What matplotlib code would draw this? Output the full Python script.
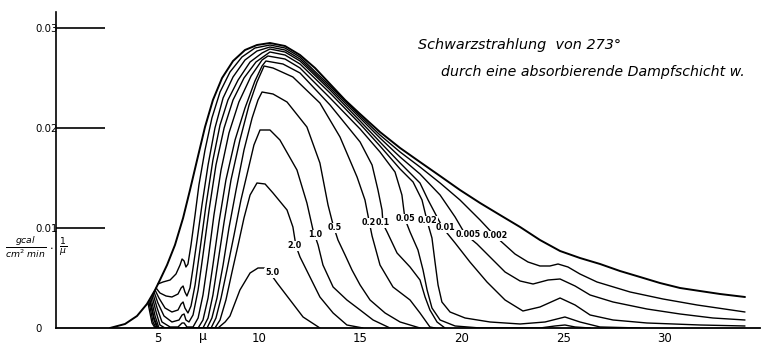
import matplotlib.pyplot as plt

# wavelength [µ] and intensity [gcal / cm² min µ]

# black body 273°, no vapour
lam_0 = [2.66, 3.40, 3.99, 4.48, 4.88, 5.12, 5.47, 5.86, 6.26, 6.60, 6.95, 7.34, 7.73, 8.18, 8.72,
         9.31, 9.90, 10.54, 11.28, 12.02, 12.76, 13.50, 14.24, 14.98, 15.96, 16.95, 17.93, 18.92,
         19.90, 20.89, 21.87, 22.86, 23.84, 24.83, 25.81, 26.80, 27.78, 28.77, 29.75, 30.74,
         31.72, 32.71, 33.94]
flux_0 = [0, .0004, .0012, .0024, .0038, .0048, .0063, .0083, .0110, .0138, .0168, .0201, .0228,
          .0250, .0267, .0278, .0283, .0285, .0282, .0273, .0260, .0244, .0228, .0214, .0196,
          .0180, .0166, .0152, .0138, .0125, .0113, .0101, .0088, .0077, .0070, .0064, .0057,
          .0051, .0045, .0040, .0037, .0034, .0031]

# w = 0.002
lam_0002 = [5.02, 5.27, 5.62, 5.91, 6.11, 6.21, 6.31, 6.40, 6.50, 6.65, 6.85, 7.04, 7.34, 7.68,
            8.08, 8.57, 9.16, 9.80, 10.54, 11.28, 12.02, 13.50, 14.98, 15.96, 16.95, 17.93,
            18.92, 19.90, 20.89, 21.63, 22.12, 22.61, 23.25, 23.84, 24.33, 24.73, 25.22, 25.81,
            26.65, 28.28, 29.90, 31.58, 33.94]
flux_0002 = [.0044, .0046, .0048, .0054, .0063, .0069, .0067, .0061, .0064, .0083, .0113, .0143,
             .0178, .0210, .0236, .0256, .0271, .0280, .0283, .0280, .0271, .0242, .0212, .0193,
             .0176, .0161, .0145, .0128, .0108, .0092, .0083, .0074, .0066, .0062, .0062, .0064,
             .0061, .0054, .0046, .0036, .0029, .0023, .0016]

# w = 0.005
lam_0005 = [4.93, 5.12, 5.42, 5.71, 6.01, 6.16, 6.26, 6.35, 6.45, 6.60, 6.75, 6.95, 7.19, 7.49,
            7.83, 8.23, 8.72, 9.31, 9.90, 10.54, 11.28, 12.02, 13.50, 14.98, 15.96, 16.95,
            17.93, 18.92, 19.66, 20.15, 20.74, 21.38, 22.12, 22.86, 23.50, 24.24, 24.83, 25.57,
            26.31, 27.44, 29.11, 30.74, 32.36, 33.94]
flux_0005 = [.0040, .0035, .0032, .0031, .0034, .0040, .0042, .0036, .0032, .0040, .0060, .0088,
             .0123, .0163, .0200, .0230, .0251, .0268, .0277, .0281, .0278, .0269, .0240, .0210,
             .0190, .0171, .0154, .0133, .0111, .0094, .0084, .0071, .0056, .0047, .0044, .0048,
             .0049, .0042, .0033, .0026, .0019, .0014, .0010, .0008]

# w = 0.01
lam_001 = [4.88, 5.07, 5.37, 5.71, 6.01, 6.16, 6.26, 6.35, 6.50, 6.65, 6.85, 7.09, 7.39, 7.73,
           8.08, 8.47, 8.97, 9.56, 10.15, 10.54, 11.28, 12.02, 13.50, 14.98, 15.96, 16.95,
           17.93, 18.33, 18.77, 19.06, 19.66, 20.39, 21.23, 22.12, 23.00, 23.84, 24.83, 25.57,
           26.31, 27.44, 29.11, 31.72, 33.94]
flux_001 = [.0038, .0030, .0020, .0016, .0018, .0024, .0026, .0020, .0015, .0022, .0043, .0078,
            .0123, .0168, .0203, .0228, .0248, .0266, .0275, .0279, .0276, .0267, .0238, .0207,
            .0186, .0165, .0145, .0128, .0111, .0100, .0085, .0066, .0046, .0028, .0017, .0021,
            .0030, .0023, .0013, .0008, .0005, .0003, .0002]

# w = 0.02
lam_002 = [4.83, 5.02, 5.32, 5.71, 6.06, 6.21, 6.31, 6.40, 6.55, 6.75, 7.00, 7.24, 7.54, 7.88,
           8.28, 8.72, 9.26, 9.85, 10.54, 11.28, 12.02, 13.50, 14.98, 15.96, 16.95, 17.59,
           18.03, 18.28, 18.52, 18.67, 18.82, 19.01, 19.41, 20.15, 21.38, 22.86, 24.09, 25.07,
           25.81, 26.80, 28.77]
flux_002 = [.0036, .0025, .0012, .0006, .0008, .0013, .0014, .0008, .0006, .0013, .0038, .0073,
            .0118, .0163, .0200, .0228, .0250, .0266, .0276, .0273, .0264, .0235, .0204, .0182,
            .0159, .0146, .0128, .0107, .0090, .0066, .0043, .0026, .0016, .0010, .0006, .0004,
            .0006, .0011, .0006, .0001, 0]

# w = 0.05
lam_005 = [4.78, 4.98, 5.22, 5.62, 6.01, 6.21, 6.31, 6.45, 6.75, 7.00, 7.24, 7.49, 7.78, 8.13,
           8.52, 9.01, 9.61, 10.15, 10.44, 11.28, 12.02, 13.50, 14.98, 15.96, 16.70, 17.04,
           17.19, 17.44, 17.83, 18.08, 18.28, 18.52, 18.92, 19.66, 20.89, 23.84, 24.58, 25.07,
           25.57, 26.31]
flux_005 = [.0034, .0020, .0006, .0001, .0001, .0005, .0005, .0001, .0001, .0010, .0033, .0068,
            .0113, .0158, .0195, .0226, .0252, .0268, .0272, .0269, .0260, .0230, .0199, .0176,
            .0156, .0133, .0109, .0096, .0078, .0058, .0038, .0020, .0008, .0002, 0, 0, .0002,
            .0003, .0001, 0]

# w = 0.1
lam_01 = [4.73, 4.93, 5.12, 5.37, 7.00, 7.24, 7.49, 7.73, 8.03, 8.37, 8.82, 9.31, 9.80, 10.15,
          10.34, 11.18, 12.02, 13.50, 14.98, 15.57, 15.86, 16.06, 16.11, 16.31, 16.80, 17.44,
          17.93, 18.18, 18.42, 18.77, 19.16]
flux_01 = [.0032, .0016, .0003, 0, 0, .0008, .0030, .0063, .0106, .0148, .0188, .0220, .0247,
           .0262, .0267, .0264, .0255, .0223, .0186, .0163, .0138, .0118, .0104, .0096, .0075,
           .0061, .0048, .0031, .0018, .0006, 0]

# w = 0.2
lam_02 = [4.68, 4.88, 5.07, 7.24, 7.49, 7.73, 7.98, 8.28, 8.62, 9.06, 9.51, 9.90, 10.25, 10.69,
          11.67, 13.00, 13.99, 14.83, 15.22, 15.47, 15.57, 15.96, 16.60, 17.44, 17.93, 18.42,
          18.67]
flux_02 = [.0030, .0012, 0, 0, .0010, .0033, .0066, .0106, .0148, .0188, .0223, .0246, .0262,
           .0260, .0251, .0225, .0191, .0151, .0128, .0102, .0092, .0063, .0041, .0028, .0015,
           .0001, 0]

# w = 0.5
lam_05 = [4.63, 4.83, 5.02, 7.44, 7.68, 7.93, 8.23, 8.52, 8.87, 9.26, 9.66, 9.95, 10.15, 10.69,
          11.38, 12.36, 13.00, 13.40, 13.65, 13.89, 14.24, 14.58, 14.98, 15.47, 16.21, 16.95,
          17.93]
flux_05 = [.0028, .0010, 0, 0, .0010, .0030, .0063, .0100, .0138, .0178, .0210, .0228, .0236,
           .0234, .0226, .0201, .0165, .0123, .0103, .0088, .0073, .0058, .0043, .0028, .0015,
           .0006, 0]

# w = 1.0
lam_1 = [4.63, 4.83, 4.98, 7.64, 7.88, 8.13, 8.42, 8.77, 9.11, 9.46, 9.75, 10.05, 10.54, 11.03,
         11.87, 12.36, 12.66, 12.91, 13.15, 13.65, 14.33, 14.98, 15.62, 16.45]
flux_1 = [.0027, .0008, 0, 0, .0010, .0030, .0058, .0093, .0128, .0158, .0183, .0198, .0198,
          .0188, .0158, .0125, .0098, .0083, .0063, .0041, .0028, .0018, .0008, 0]

# w = 2.0
lam_2 = [4.58, 4.78, 4.93, 7.83, 8.08, 8.37, 8.67, 8.97, 9.26, 9.56, 9.90, 10.30, 10.69, 11.38,
         11.67, 11.82, 12.02, 12.51, 13.00, 13.65, 14.33, 15.12]
flux_2 = [.0026, .0006, 0, 0, .0008, .0028, .0056, .0083, .0110, .0133, .0145, .0144, .0135,
          .0118, .0101, .0082, .0071, .0051, .0031, .0015, .0003, 0]

# w = 5.0
lam_5 = [4.53, 4.73, 4.88, 7.98, 8.33, 8.57, 9.06, 9.56, 9.95, 10.25, 10.54, 10.89, 11.53,
         12.17, 13.00]
flux_5 = [.0025, .0005, 0, 0, .0006, .0012, .0038, .0055, .0060, .0060, .0055, .0045, .0028,
          .0011, 0]

# layer labels written into the curves
label_text = ['5.0', '2.0', '1.0', '0.5', '0.2', '0.1', '0.05', '0.02', '0.01', '0.005', '0.002']
label_lam = [10.64, 11.77, 12.76, 13.74, 15.42, 16.11, 17.19, 18.30, 19.20, 20.30, 21.63]
label_flux = [.0055, .0082, .0093, .0100, .0105, .0105, .0109, .0107, .0100, .0093, .0092]

xticks = [5, 10, 15, 20, 25, 30]
yticks = [0, 0.01, 0.02, 0.03]
ytick_labels = ['0', '0.01', '0.02', '0.03']

curves = [(lam_0, flux_0, 1.4), (lam_0002, flux_0002, 1.0), (lam_0005, flux_0005, 1.0),
          (lam_001, flux_001, 1.0), (lam_002, flux_002, 1.0), (lam_005, flux_005, 1.0),
          (lam_01, flux_01, 1.0), (lam_02, flux_02, 1.0), (lam_05, flux_05, 1.0),
          (lam_1, flux_1, 1.0), (lam_2, flux_2, 1.0), (lam_5, flux_5, 1.0)]

fig = plt.figure(figsize=(7.61, 3.49), dpi=100)
ax = fig.add_axes([0.0736, 0.0602, 0.9251, 0.9054])

for lam, flux, lw in curves:
    ax.plot(lam, flux, color='black', lw=lw, solid_joinstyle='round', solid_capstyle='round')

for txt, lx, ly in zip(label_text, label_lam, label_flux):
    ax.text(lx, ly, txt, fontsize=5.8, fontweight='bold', ha='center', va='center', zorder=5,
            bbox=dict(boxstyle='square,pad=0.08', fc='white', ec='none'))

ax.set_xlim(0, 34.68)
ax.set_ylim(0, 0.0316)
ax.spines['top'].set_visible(False)
ax.spines['right'].set_visible(False)
ax.spines['left'].set_linewidth(1.2)
ax.spines['bottom'].set_linewidth(1.3)

ax.set_xticks(xticks, labels=[str(t) for t in xticks])
ax.tick_params(axis='x', length=0, pad=3, labelsize=8.5)
ax.set_yticks(yticks, labels=ytick_labels)
ax.tick_params(axis='y', length=0, pad=15, labelsize=7.3)
for lbl in ax.get_yticklabels():
    lbl.set_horizontalalignment('left')

# long grid stubs next to the y axis
ax.hlines(yticks[1:], 0, 2.4, color='black', lw=1.2)

ax.text(7.25, -0.0009, 'µ', fontsize=9, ha='center', va='center', clip_on=False)

# unit of the ordinate, written as two small fractions
fig.text(26 / 761, 1 - 247 / 349, r'$\frac{gcal}{cm^2\ min}$', fontsize=9.5,
         ha='center', va='center')
fig.text(51 / 761, 1 - 247 / 349, r'$\cdot$', fontsize=8, ha='center', va='center')
fig.text(63 / 761, 1 - 247 / 349, r'$\frac{1}{\mu}$', fontsize=9.5, ha='center', va='center')

fig.text(418 / 761, 1 - 45 / 349, 'Schwarzstrahlung  von 273°', fontsize=10.4,
         style='italic', ha='left', va='center')
fig.text(441 / 761, 1 - 72 / 349, 'durch eine absorbierende Dampfschicht w.', fontsize=10.2,
         style='italic', ha='left', va='center')

fig.savefig('out.png', dpi=100, facecolor='white')
